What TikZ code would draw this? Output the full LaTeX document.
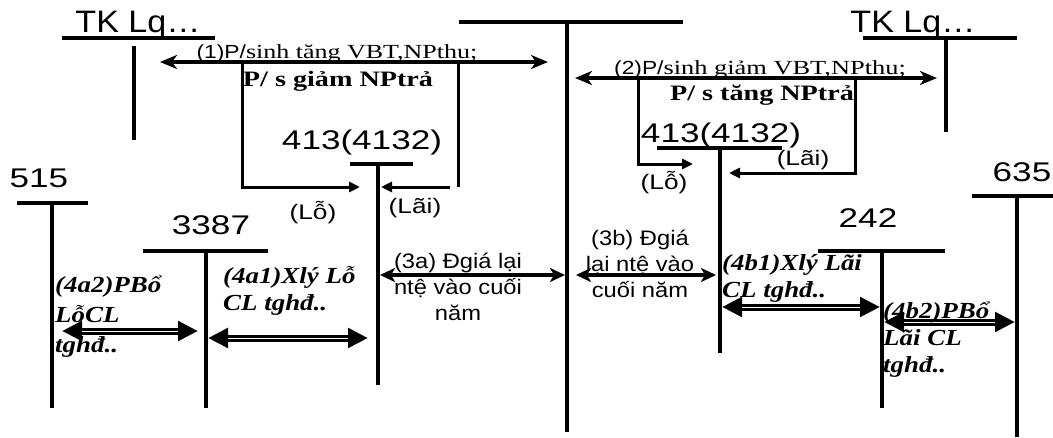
\documentclass[tikz,border=0pt]{standalone}
\usepackage{fontspec}
\setmainfont{Liberation Sans}
\newfontfamily\tnr{Liberation Serif}
\usetikzlibrary{arrows.meta}
\newcommand\FS[1]{\addfontfeature{FakeStretch=#1}}
\newcommand\Lstack[1]{\vtop{\halign{##\hfil\cr#1\crcr}}}
\newcommand\Cstack[1]{\vtop{\halign{\hfil##\hfil\cr#1\crcr}}}
\begin{document}
\begin{tikzpicture}[x=1pt,y=-1pt,
  tl/.style={line width=4pt},
  bl/.style={line width=3pt},
  tk/.style={inner sep=0pt,anchor=base,font=\fontsize{31}{34}\selectfont\FS{1.1}},
  acct/.style={inner sep=0pt,anchor=base,font=\fontsize{27}{30}\selectfont\FS{1.3}},
  sm/.style={inner sep=0pt,font=\fontsize{21}{24}\selectfont\FS{1.25}},
  mid/.style={inner sep=0pt,anchor=base,font=\fontsize{21}{26}\selectfont\FS{1.13}},
  serl/.style={inner sep=0pt,anchor=base,font=\fontsize{19}{20}\selectfont\FS{1.2}},
  serb/.style={inner sep=0pt,anchor=base,font=\tnr\bfseries\fontsize{22}{24}\selectfont\FS{1.28}},
  ital/.style={inner sep=0pt,anchor=base west,font=\tnr\bfseries\itshape\fontsize{23}{27}\selectfont\FS{1.17}},
  longarr/.style={line width=4pt,{Stealth[length=17pt,width=14pt,inset=5pt]}-{Stealth[length=17pt,width=14pt,inset=5pt]}},
  midarr/.style={line width=4pt,{Stealth[length=15pt,width=14pt,inset=4pt]}-{Stealth[length=15pt,width=14pt,inset=4pt]}},
  smarr/.style={bl,-{Triangle[length=11pt,width=10pt]}},
  fat/.style={line width=7pt,{Triangle[length=20pt,width=19pt]}-{Triangle[length=20pt,width=19pt]}},
  fatin/.style={white,line width=0.8pt}
]
\useasboundingbox (0,0) rectangle (1053,437);

% ---- T accounts
\node[tk] (tkL) at (138,32) {TK Lq…};
\draw[tl] (62,38) -- (215,38);
\draw[tl] (134,46) -- (134,140);

\draw[tl] (459,22) -- (683,22);
\draw[tl] (567,22) -- (567,432);

\node[tk] (tkR) at (913,32) {TK Lq…};
\draw[tl] (863,38) -- (1017,38);
\draw[tl] (946,38) -- (946,132);

\node[acct] (a413L) at (362,149) {413(4132)};
\draw[tl] (350,164) -- (413,164);
\draw[tl] (378,164) -- (378,385);

\node[acct] (a413R) at (721,142) {413(4132)};
\draw[tl] (657,148) -- (782,148);
\draw[tl] (720,148) -- (720,353);

\node[acct] (a515) at (39,187) {515};
\draw[tl] (17,203) -- (88,203);
\draw[tl] (52,203) -- (52,408);

\node[acct] (a3387) at (211,234) {3387};
\draw[tl] (143,251) -- (268,251);
\draw[tl] (206,251) -- (206,408);

\node[acct] (a242) at (868,227) {242};
\draw[tl] (818,251) -- (945,251);
\draw[tl] (882,251) -- (882,408);

\node[acct] (a635) at (1022,181) {635};
\draw[tl] (972,196) -- (1053,196);
\draw[tl] (1017,196) -- (1017,437);

% ---- coordinates
\coordinate (p1L) at (160,62);  \coordinate (p1R) at (548,62);
\coordinate (p2L) at (575,78);  \coordinate (p2R) at (937,78);
\coordinate (bxLa) at (242,62); \coordinate (bxLb) at (242,187); \coordinate (bxLc) at (360,187);
\coordinate (bxRa) at (458,62); \coordinate (bxRb) at (458,187);
\coordinate (bxRc) at (450,187); \coordinate (bxRd) at (381,187);
\coordinate (cxLa) at (638,78); \coordinate (cxLb) at (638,164); \coordinate (cxLc) at (693,164);
\coordinate (cxRa) at (855,78); \coordinate (cxRb) at (855,173); \coordinate (cxRc) at (729,173);
\coordinate (p3aL) at (380,275); \coordinate (p3aR) at (565,275);
\coordinate (p3bL) at (576,275); \coordinate (p3bR) at (716,275);
\coordinate (q1L) at (62,331);  \coordinate (q1R) at (198,331);
\coordinate (q2L) at (208,338); \coordinate (q2R) at (368,338);
\coordinate (q3L) at (722,307); \coordinate (q3R) at (880,307);
\coordinate (q4L) at (884,322); \coordinate (q4R) at (1015,322);

% ---- arrows (1) (2)
\draw[longarr] (p1L) -- (p1R);
\draw[longarr] (p2L) -- (p2R);
\node[serl] (t1a) at (337,58) {(1)P/{\tnr\fontsize{20}{20}\selectfont\FS{1.3}sinh tăng VBT,NPthu;}};
\node[serb] (t1b) at (338,86) {P/ s giảm NPtrả};
\node[serl] (t2a) at (760,74) {(2)P/{\tnr\fontsize{20}{20}\selectfont\FS{1.32}sinh giảm VBT,NPthu;}};
\node[serb] (t2b) at (762,100) {P/ s tăng NPtrả};

% ---- boxes into 413
\draw[smarr] (bxLa) -- (bxLb) -- (bxLc);
\draw[bl] (bxRa) -- (bxRb);
\draw[smarr] (bxRc) -- (bxRd);
\draw[smarr] (cxLa) -- (cxLb) -- (cxLc);
\draw[smarr] (cxRa) -- (cxRb) -- (cxRc);
\node[sm] (loL) at (313,213) {(Lỗ)};
\node[sm] (laiL) at (415,208) {(Lãi)};
\node[sm] (loR) at (664,183) {(Lỗ)};
\node[sm] (laiR) at (803,160) {(Lãi)};

% ---- (3a) (3b)
\draw[midarr] (p3aL) -- (p3aR);
\draw[midarr] (p3bL) -- (p3bR);
\node[mid] (t3a) at (458,268) {\Cstack{(3a) Đgiá lại\cr ntệ vào cuối\cr năm}};
\node[mid] (t3b) at (640,245) {\Cstack{(3b) Đgiá\cr lại ntệ vào\cr cuối năm}};

% ---- (4) fat arrows
\foreach \a in {q1,q2,q3,q4}{
  \draw[fat] (\a L) -- (\a R);
  \draw[fatin] ([xshift=20pt]\a L) -- ([xshift=-20pt]\a R);
}
\node[ital,font=\tnr\bfseries\itshape\fontsize{23}{30}\selectfont\FS{1.17}] (t4a2) at (55,292) {\Lstack{(4a2)PBổ\cr LỗCL\cr tghđ..}};
\node[ital] (t4a1) at (223,283) {\Lstack{(4a1)Xlý Lỗ\cr CL tghđ..}};
\node[ital] (t4b1) at (722,270) {\Lstack{(4b1)Xlý Lãi\cr CL tghđ..}};
\node[ital] (t4b2) at (883,318) {\Lstack{(4b2)PBổ\cr Lãi CL\cr tghđ..}};
\end{tikzpicture}
\end{document}
